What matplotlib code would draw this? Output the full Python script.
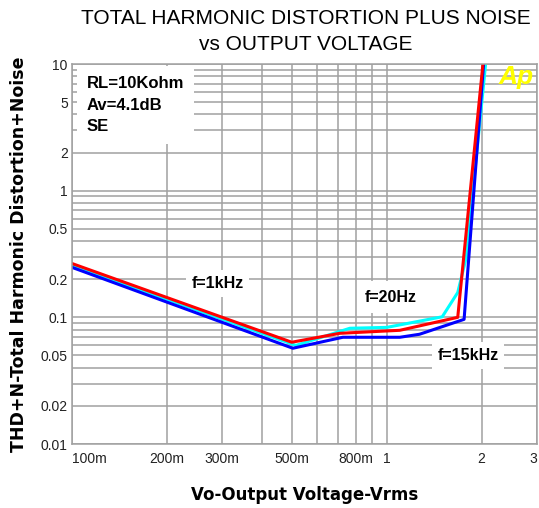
import matplotlib.pyplot as plt
from matplotlib.ticker import FixedLocator, NullFormatter

# THD+N vs output voltage, three test frequencies
vo_20hz = [0.1, 0.514, 0.763, 1.0, 1.50, 1.68, 1.79, 2.06]
thd_20hz = [0.257, 0.060, 0.082, 0.0833, 0.101, 0.157, 0.30, 10]

vo_15khz = [0.1, 0.503, 0.725, 1.10, 1.27, 1.76, 2.03]
thd_15khz = [0.248, 0.057, 0.0696, 0.0696, 0.0735, 0.0964, 10]

vo_1khz = [0.1, 0.499, 0.709, 1.10, 1.68, 2.02]
thd_1khz = [0.266, 0.0636, 0.0748, 0.079, 0.100, 10]

x_ticks = [0.1, 0.2, 0.3, 0.5, 0.8, 1, 2, 3]
x_labels = ['100m', '200m', '300m', '500m', '800m', '1', '2', '3']
x_grid = [0.4, 0.6, 0.7, 0.9]
y_ticks = [0.01, 0.02, 0.05, 0.1, 0.2, 0.5, 1, 2, 5, 10]
y_labels = ['0.01', '0.02', '0.05', '0.1', '0.2', '0.5', '1', '2', '5', '10']
y_grid = [m * d for d in (0.01, 0.1, 1) for m in (3, 4, 6, 7, 8, 9)]

plt.rcParams['font.family'] = ['Liberation Sans', 'DejaVu Sans']
grid_col = '#a0a0a0'

fig = plt.figure(figsize=(5.39, 5.08), dpi=100)
ax = fig.add_axes([72 / 539, 64 / 508, 465 / 539, 380 / 508])

ax.plot(vo_20hz, thd_20hz, color='#00ffff', lw=2.2)
ax.plot(vo_15khz, thd_15khz, color='#0000ff', lw=2.2)
ax.plot(vo_1khz, thd_1khz, color='#ff0000', lw=2.2)

ax.set_xscale('log')
ax.set_yscale('log')
ax.set_xlim(0.1, 3)
ax.set_ylim(0.01, 10)

ax.xaxis.set_major_locator(FixedLocator(x_ticks))
ax.set_xticklabels(x_labels)
ax.xaxis.set_minor_locator(FixedLocator(x_grid))
ax.xaxis.set_minor_formatter(NullFormatter())
ax.yaxis.set_major_locator(FixedLocator(y_ticks))
ax.set_yticklabels(y_labels)
ax.yaxis.set_minor_locator(FixedLocator(y_grid))
ax.yaxis.set_minor_formatter(NullFormatter())

ax.tick_params(which='both', length=0, labelsize=10, labelcolor='#222222')
ax.tick_params(axis='x', pad=6)
ax.tick_params(axis='y', pad=3)
ax.xaxis.get_majorticklabels()[0].set_horizontalalignment('left')
ax.xaxis.get_majorticklabels()[-1].set_horizontalalignment('right')

ax.grid(True, which='both', color=grid_col, lw=1.1)
ax.set_axisbelow(True)
for s in ax.spines.values():
    s.set_color(grid_col)
    s.set_linewidth(1.1)

ax.set_xlabel('Vo-Output Voltage-Vrms', family='DejaVu Sans', fontweight='bold',
              fontsize=12, labelpad=14)
ax.set_ylabel('THD+N-Total Harmonic Distortion+Noise', family='DejaVu Sans',
              fontweight='bold', fontsize=12.5, labelpad=9)

# annotations
box = dict(facecolor='white', edgecolor='none', pad=7)
ax.text(0.032, 0.968, 'RL=10Kohm\nAv=4.1dB\nSE', transform=ax.transAxes,
        ha='left', va='top', fontsize=12, fontweight='bold', linespacing=1.55,
        bbox=box, zorder=5)
ax.text(0.29, 0.185, 'f=1kHz', ha='center', va='center', fontsize=11.5,
        fontweight='bold', bbox=dict(facecolor='white', edgecolor='none', pad=4), zorder=5)
ax.text(1.03, 0.144, 'f=20Hz', ha='center', va='center', fontsize=11.5,
        fontweight='bold', bbox=dict(facecolor='white', edgecolor='none', pad=6), zorder=5)
ax.text(1.81, 0.050, 'f=15kHz', ha='center', va='center', fontsize=11.5,
        fontweight='bold', bbox=dict(facecolor='white', edgecolor='none', pad=4), zorder=5)
ax.text(0.955, 0.997, 'Ap', transform=ax.transAxes, ha='center', va='top',
        fontsize=19, fontweight='bold', style='italic', color='#ffff00', zorder=6)

fig.text(306 / 539, 1 - 18 / 508, 'TOTAL HARMONIC DISTORTION PLUS NOISE',
         ha='center', va='center', fontsize=15)
fig.text(306 / 539, 1 - 45 / 508, 'vs OUTPUT VOLTAGE',
         ha='center', va='center', fontsize=15)

fig.savefig('out.png', dpi=100)
